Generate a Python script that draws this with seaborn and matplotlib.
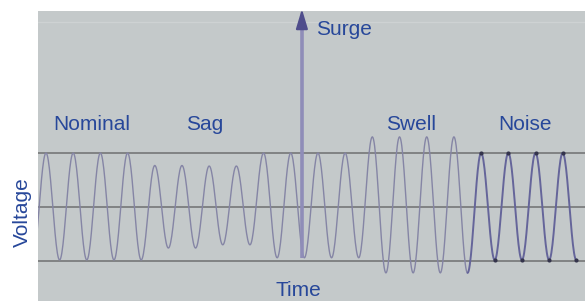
import numpy as np
import pandas as pd
import matplotlib
matplotlib.use("Agg")
import matplotlib.pyplot as plt
import seaborn as sns

# per-cycle peak / trough heights (1.0 = nominal amplitude)
cycle = np.arange(20)
peak_amp = [1.0, 1.0, 1.0, 1.0, 0.77, 0.77, 0.76, 0.76, 1.0, 1.0,
            1.0, 1.0, 1.30, 1.30, 1.30, 1.30, 1.0, 1.0, 1.0, 1.0]
trough_amp = [-0.98, -0.98, -0.98, -0.98, -0.76, -0.76, -0.70, -0.70, -0.94, -0.94,
              -0.94, -0.94, -1.22, -1.22, -1.22, -1.22, -0.98, -0.98, -0.98, -0.98]
noise_cycles = [16, 17, 18, 19]
ref_levels = [1.0, 0.0, -1.0]
surge_at = 9.41
surge_from, surge_to = -0.94, 3.72

labels = ["Nominal", "Sag", "Swell", "Noise"]
label_x = [1.69, 5.85, 13.42, 17.61]
label_y = 1.52

TEXT = "#27479a"
WAVE = "#8585a5"

# extremes in time order: peak at k, trough at k + 0.5
ext_t, ext_v = [-0.5], [trough_amp[0]]
for k in cycle:
    ext_t += [k, k + 0.5]
    ext_v += [peak_amp[k], trough_amp[k]]

# join neighbouring extremes with half cosine segments
rows = []
for i in range(len(ext_t) - 1):
    s = np.linspace(0, 1, 25)
    t = ext_t[i] + s * (ext_t[i + 1] - ext_t[i])
    v = ext_v[i] + (ext_v[i + 1] - ext_v[i]) * (1 - np.cos(np.pi * s)) / 2
    for tt, vv in zip(t, v):
        rows.append((tt, vv, "noise" if tt >= noise_cycles[0] - 0.5 else "clean"))
wave = pd.DataFrame(rows, columns=["time", "voltage", "part"])

sns.set_theme(style="white")
plt.rcParams["font.family"] = ["Liberation Sans", "DejaVu Sans"]

fig = plt.figure(figsize=(5.85, 3.01), dpi=100, facecolor="white")
ax = fig.add_axes([38 / 585, 0, 1 - 38 / 585, 1 - 11 / 301])
ax.set_facecolor("#c4c9ca")

for lv in ref_levels:
    ax.axhline(lv, color="#6e7070", lw=1.1, zorder=1)
ax.axhline(3.43, color="#ced2d3", lw=1.0, zorder=1)

clean = wave[wave["part"] == "clean"]
noisy = wave[wave["part"] == "noise"]
sns.lineplot(data=clean, x="time", y="voltage", ax=ax, color=WAVE, lw=1.0,
             sort=False, estimator=None, zorder=2)
sns.lineplot(data=noisy, x="time", y="voltage", ax=ax, color="#65659a", lw=1.4,
             sort=False, estimator=None, zorder=2)
ax.scatter(noise_cycles, [peak_amp[k] for k in noise_cycles], s=9, color="#34344c",
           linewidths=0, zorder=3)
ax.scatter([k + 0.5 for k in noise_cycles], [trough_amp[k] for k in noise_cycles],
           s=9, color="#34344c", linewidths=0, zorder=3)

# surge spike: pale shaft plus darker head
ax.plot([surge_at, surge_at], [surge_from, surge_to - 0.3], color="#8f8db8", lw=2.6,
        solid_capstyle="butt", zorder=4)
ax.annotate("", xy=(surge_at, surge_to), xytext=(surge_at, surge_to - 0.4),
            arrowprops=dict(arrowstyle="-|>,head_width=0.3,head_length=1.0",
                            color="#4f4d8c", lw=1.5), annotation_clip=False, zorder=5)
ax.text(surge_at + 0.52, 3.28, "Surge", color=TEXT, fontsize=15, va="center", ha="left")

for name, x in zip(labels, label_x):
    ax.text(x, label_y, name, color=TEXT, fontsize=15, ha="center", va="center")

ax.set_xlim(-0.294, 19.82)
ax.set_ylim(-1.74, 3.63)
ax.set_xticks([])
ax.set_yticks([])
ax.set_xlabel("")
ax.set_ylabel("")
for sp in ax.spines.values():
    sp.set_visible(False)

fig.text(22 / 585, 1 - 212 / 301, "Voltage", rotation=90, color=TEXT, fontsize=15,
         ha="center", va="center")
fig.text(298 / 585, 1 - 290 / 301, "Time", color=TEXT, fontsize=15, ha="center", va="center")

fig.savefig("out.png", dpi=100, facecolor="white")
